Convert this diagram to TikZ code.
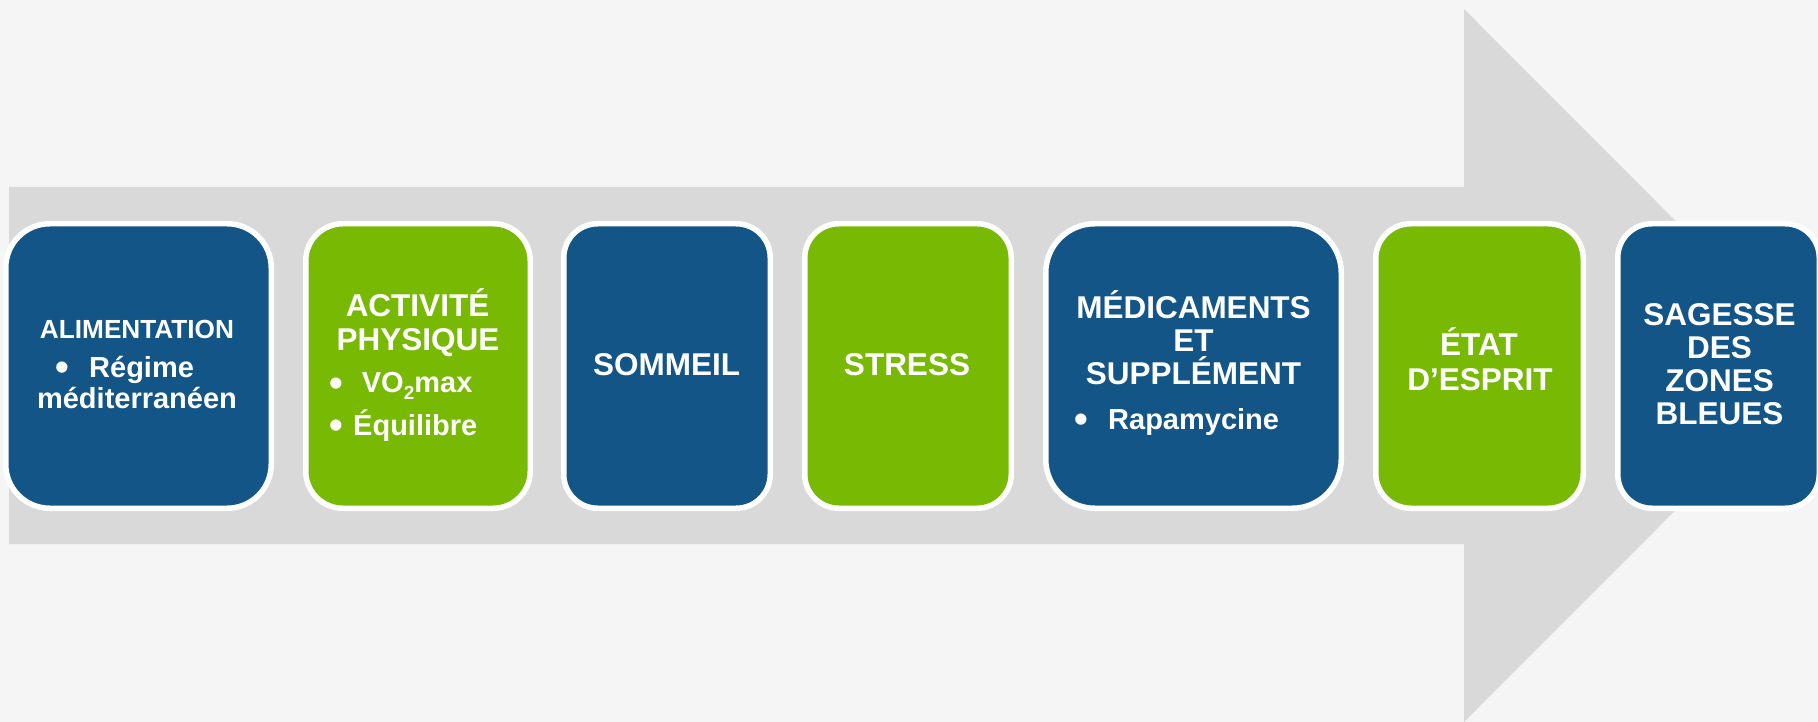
\documentclass[tikz,border=0pt]{standalone}
\usepackage{graphicx}
\usepackage{fontspec}
\setmainfont{Liberation Sans}
\definecolor{bgc}{RGB}{245,245,245}
\definecolor{arrowc}{RGB}{217,217,217}
\definecolor{cardblue}{RGB}{19,85,135}
\definecolor{cardgreen}{RGB}{120,185,4}
\newcommand{\bigbul}{\raisebox{-0.13em}{\scalebox{1.35}{•}}}
\begin{document}
\begin{tikzpicture}[x=1pt,y=-1pt,
  card/.style={draw=white, line width=5.5pt, rectangle, inner sep=0pt, minimum height=284.5pt},
  bluecard/.style={card, fill=cardblue},
  greencard/.style={card, fill=cardgreen},
  lbl/.style={text=white, inner sep=0pt, anchor=base, font=\bfseries\fontsize{31.5}{33}\selectfont},
  lblsmall/.style={lbl, font=\bfseries\fontsize{26.2}{28}\selectfont},
  subtxt/.style={lbl, font=\bfseries\fontsize{29}{31}\selectfont},
  subleft/.style={subtxt, anchor=base west},
]
\useasboundingbox (0,0) rectangle (1818,722);
\fill[bgc] (0,0) rectangle (1818,722);
\clip (0,0) rectangle (1818,722);
% big arrow
\fill[arrowc] (9,187) -- (1464,187) -- (1464,9) -- (1820,365.5) -- (1464,722) -- (1464,544) -- (9,544) -- cycle;
% cards
\node[bluecard,  minimum width=265.5pt, rounded corners=44pt] (b1) at (138.5,366) {};
\node[greencard, minimum width=224.5pt, rounded corners=37pt] (b2) at (418,366) {};
\node[bluecard,  minimum width=206.5pt, rounded corners=34pt] (b3) at (667,366) {};
\node[greencard, minimum width=206.5pt, rounded corners=34pt] (b4) at (908,366) {};
\node[bluecard,  minimum width=295.5pt, rounded corners=49pt] (b5) at (1193.5,366) {};
\node[greencard, minimum width=207.5pt, rounded corners=35pt] (b6) at (1479.5,366) {};
\node[bluecard,  minimum width=201.5pt, rounded corners=34pt] (b7) at (1718.5,366) {};
% box 1
\node[lblsmall] (t1a) at (137,338) {ALIMENTATION};
\node[subtxt] (t1b) at (62,377) {\bigbul};
\node[subleft] (t1c) at (89,377) {Régime};
\node[subtxt] (t1d) at (137,408) {méditerranéen};
% box 2
\node[lbl] (t2a) at (417.5,316.7) {ACTIVITÉ};
\node[lbl] (t2b) at (418,350) {PHYSIQUE};
\node[subtxt] (t2c) at (336.7,392.7) {\bigbul};
\node[subleft] (t2d) at (361.7,392.7) {VO\raisebox{-0.22em}{\fontsize{19}{19}\selectfont 2}max};
\node[subtxt] (t2e) at (336.7,435) {\bigbul};
\node[subleft] (t2f) at (353,435) {Équilibre};
% box 3, 4
\node[lbl] (t3) at (666.5,375) {SOMMEIL};
\node[lbl] (t4) at (907,375) {STRESS};
% box 5
\node[lbl] (t5a) at (1193.5,318) {MÉDICAMENTS};
\node[lbl] (t5b) at (1193.5,351) {ET};
\node[lbl] (t5c) at (1193.5,384) {SUPPLÉMENT};
\node[subtxt] (t5d) at (1081.7,429) {\bigbul};
\node[subleft] (t5e) at (1108,429) {Rapamycine};
% box 6
\node[lbl] (t6a) at (1479,355) {ÉTAT};
\node[lbl] (t6b) at (1480,390.7) {D’ESPRIT};
% box 7
\node[lbl] (t7a) at (1719.5,325) {SAGESSE};
\node[lbl] (t7b) at (1719.5,358) {DES};
\node[lbl] (t7c) at (1719.5,391) {ZONES};
\node[lbl] (t7d) at (1719.5,424) {BLEUES};
\end{tikzpicture}
\end{document}
